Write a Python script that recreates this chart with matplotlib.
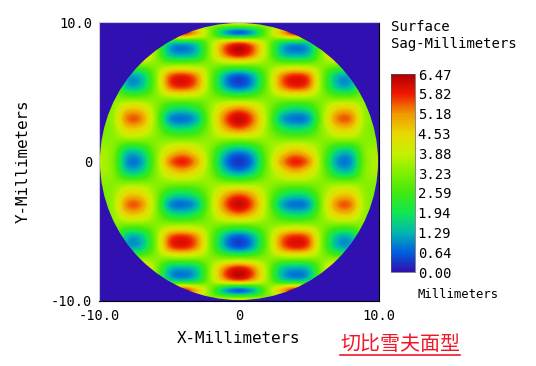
import matplotlib
matplotlib.use("Agg")
import matplotlib.pyplot as plt
from matplotlib.colors import LinearSegmentedColormap
from matplotlib.lines import Line2D
from matplotlib.patches import Circle
import numpy as np

# surface sag, quarter x>=0 y>=0 (the plot is mirrored both ways)
# rows: y = 0 ... 10 in 14 steps, columns: x = 0 ... 10 in 11 steps
sag_quarter = [
    [0.3, 1.0, 3.05, 5.0, 5.8, 5.2, 3.05, 1.1, 1.05, 3.15, 3.7],
    [1.1, 1.65, 3.15, 4.2, 4.8, 4.3, 3.15, 1.75, 1.65, 3.25, 3.6],
    [3.2, 3.3, 3.4, 3.3, 3.3, 3.3, 3.3, 3.3, 3.3, 3.3, 3.3],
    [5.35, 4.8, 3.45, 2.25, 1.8, 2.1, 3.4, 4.45, 4.5, 3.4, 3.15],
    [6.2, 5.4, 3.5, 1.35, 0.8, 1.15, 3.45, 5.25, 5.3, 3.5, 3.15],
    [5.1, 4.6, 3.45, 2.3, 1.85, 2.15, 3.4, 4.45, 4.5, 3.4, 3.15],
    [2.75, 2.9, 3.25, 3.55, 3.7, 3.6, 3.25, 2.95, 2.95, 3.3, 3.4],
    [0.65, 1.3, 3.1, 5.1, 5.75, 5.3, 3.1, 1.45, 1.4, 3.2, 3.7],
    [0.65, 1.3, 3.1, 5.1, 5.75, 5.3, 3.1, 1.45, 1.4, 3.2, 3.7],
    [3.2, 3.2, 3.3, 3.35, 3.4, 3.35, 3.3, 3.2, 3.2, 3.3, 3.4],
    [6.0, 5.3, 3.5, 1.6, 1.15, 1.5, 3.45, 5.1, 5.2, 3.3, 3.15],
    [5.7, 5.05, 3.5, 1.8, 1.3, 1.65, 3.45, 4.8, 4.8, 3.3, 3.15],
    [0.65, 1.3, 3.1, 4.8, 5.8, 5.0, 3.1, 1.45, 1.45, 3.3, 3.7],
    [4.4, 4.2, 3.4, 2.6, 2.1, 2.6, 3.4, 4.1, 4.1, 3.3, 3.15],
]
cbar_ticks = [0.00, 0.64, 1.29, 1.94, 2.59, 3.23, 3.88, 4.53, 5.18, 5.82, 6.47]
cbar_colors = ["#3010b0", "#0060e0", "#00b8b0", "#10e850", "#40e810", "#80f000",
               "#c8f000", "#e8d800", "#f09800", "#f01800", "#b00000"]
axis_ticks = [-10, 0, 10]
axis_ticklabels = ["-10.0", "0", "10.0"]
background = "#3010b0"

W, H = 536, 366
cmap = LinearSegmentedColormap.from_list("sag", cbar_colors)

sag = np.array(sag_quarter)
sag = np.hstack([sag[:, :0:-1], sag])
sag = np.vstack([sag[:0:-1], sag])
dx = 20 / (sag.shape[1] - 1)
dy = 20 / (sag.shape[0] - 1)

fig = plt.figure(figsize=(W / 100, H / 100), dpi=100)
mono = "DejaVu Sans Mono"

ax = fig.add_axes([99 / W, 1 - 301 / H, 280 / W, 279 / H])
ax.set_facecolor(background)
im = ax.imshow(sag, cmap=cmap, vmin=0, vmax=6.47, origin="lower", aspect="auto",
               interpolation="catrom", interpolation_stage="data",
               extent=[-10 - dx / 2, 10 + dx / 2, -10 - dy / 2, 10 + dy / 2])
im.set_clip_path(Circle((0, 0), 9.93, transform=ax.transData))
ax.set_xlim(-10, 10)
ax.set_ylim(-10, 10)
ax.set_xticks(axis_ticks, axis_ticklabels, family=mono, fontsize=9.8)
ax.set_yticks(axis_ticks, axis_ticklabels, family=mono, fontsize=9.8)
ax.tick_params(length=0, pad=6)
ax.tick_params(axis="y", pad=5)
ax.set_xlabel("X-Millimeters", family=mono, fontsize=11.4)
ax.set_ylabel("Y-Millimeters", family=mono, fontsize=11.4)
ax.xaxis.set_label_coords(0.5, -0.108)
ax.yaxis.set_label_coords(-0.245, 0.5)
ax.spines["top"].set_color("#c8c8d8")
ax.spines["left"].set_color("#c8c8d8")
ax.spines["bottom"].set_color("black")
ax.spines["right"].set_color("black")

cax = fig.add_axes([391 / W, 1 - 272 / H, 24 / W, 198 / H])
cbar = fig.colorbar(im, cax=cax, ticks=cbar_ticks)
cbar.ax.set_yticklabels(["%.2f" % t for t in cbar_ticks], family=mono, fontsize=10)
cbar.ax.tick_params(length=0, pad=2)
cbar.outline.set_linewidth(0.5)
cbar.outline.set_edgecolor("#555555")

fig.text(391 / W, 1 - 27 / H, "Surface", family=mono, fontsize=10.1, va="center")
fig.text(391 / W, 1 - 44 / H, "Sag-Millimeters", family=mono, fontsize=10.1, va="center")
fig.text(418 / W, 1 - 295 / H, "Millimeters", family=mono, fontsize=8.8, va="center")

fig.text(400 / W, 1 - 344 / H, "切比雪夫面型", family="Noto Sans CJK SC", fontsize=14.4,
         weight="medium", color="#f01828", ha="center", va="center")
fig.add_artist(Line2D([340 / W, 460 / W], [1 - 355 / H, 1 - 355 / H], color="#f01828", lw=1.2))

fig.savefig("out.png", dpi=100)
